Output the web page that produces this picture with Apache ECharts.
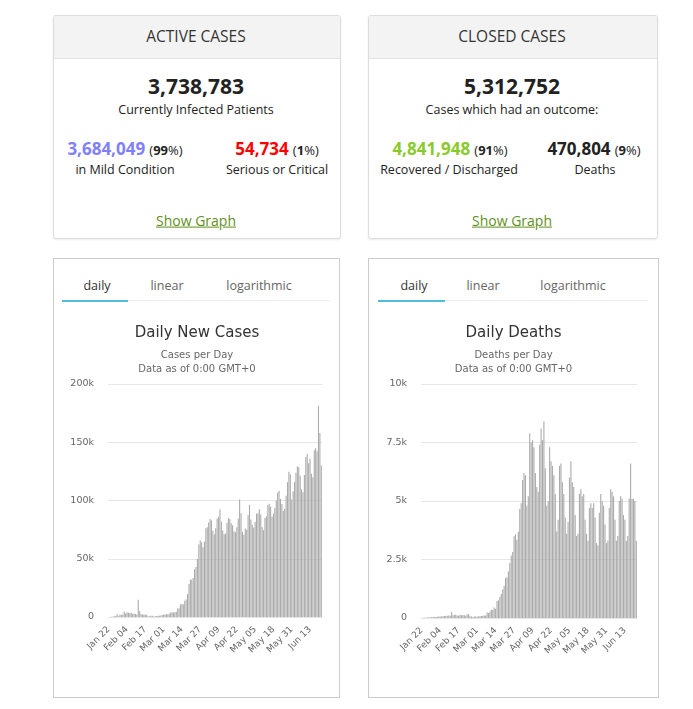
<!DOCTYPE html>
<html>
<head>
<meta charset="utf-8">
<script src="https://cdn.jsdelivr.net/npm/echarts@6/dist/echarts.min.js"></script>
<style>
  html, body { margin:0; padding:0; background:#fff; width:693px; height:709px; overflow:hidden; font-family:'Open Sans', sans-serif; color:#222; }
  .card { position:absolute; box-sizing:border-box; background:#fff; }
  .top { top:15px; height:224px; border:1px solid #ddd; border-radius:3px; box-shadow:0 1px 2px rgba(0,0,0,0.08); overflow:hidden; }
  .hdr { position:absolute; left:0; top:0; right:0; height:42px; background:#f3f3f3; border-bottom:1px solid #e3e3e3; }
  .bot { top:258px; height:440px; border:1px solid #ccc; }
  .c { position:absolute; transform:translate(-50%,-50%); white-space:nowrap; line-height:1.2; }
  .h { font-size:15.5px; color:#333; }
  .big { font-size:21px; font-weight:700; color:#222; }
  .sub { font-size:12.5px; color:#222; }
  .num { font-size:17px; font-weight:700; }
  .pct { font-size:13px; color:#222; }
  .lnk { font-size:14px; color:#5f8f22; text-decoration:underline; }
  .tab { font-size:12.5px; color:#666; }
  .tab.on { color:#333; }
  .ul { position:absolute; height:2px; background:#50bfdc; }
  .gl { position:absolute; height:1px; background:#eee; }
  .chart { position:absolute; top:258px; height:440px; }
</style>
</head>
<body>
<div class="card top" style="left:53px;width:288px;"><div class="hdr"></div></div>
<div class="card top" style="left:368px;width:290px;"><div class="hdr"></div></div>

<div class="c h" style="left:196px;top:36px;">ACTIVE CASES</div>
<div class="c big" style="left:196px;top:87px;">3,738,783</div>
<div class="c sub" style="left:196px;top:109px;">Currently Infected Patients</div>
<div class="c" style="left:125px;top:149px;"><span class="num" style="color:#8080ff;">3,684,049</span> <span class="pct">(<b>99</b>%)</span></div>
<div class="c sub" style="left:125px;top:169px;">in Mild Condition</div>
<div class="c" style="left:277px;top:149px;"><span class="num" style="color:#ff0000;">54,734</span> <span class="pct">(<b>1</b>%)</span></div>
<div class="c sub" style="left:277px;top:169px;">Serious or Critical</div>
<div class="c lnk" style="left:196px;top:221px;">Show Graph</div>

<div class="c h" style="left:512px;top:36px;">CLOSED CASES</div>
<div class="c big" style="left:512px;top:87px;">5,312,752</div>
<div class="c sub" style="left:512px;top:109px;">Cases which had an outcome:</div>
<div class="c" style="left:450px;top:149px;"><span class="num" style="color:#8aca2b;">4,841,948</span> <span class="pct">(<b>91</b>%)</span></div>
<div class="c sub" style="left:449px;top:169px;">Recovered / Discharged</div>
<div class="c" style="left:594px;top:149px;"><span class="num" style="color:#222;">470,804</span> <span class="pct">(<b>9</b>%)</span></div>
<div class="c sub" style="left:595px;top:169px;">Deaths</div>
<div class="c lnk" style="left:512px;top:221px;">Show Graph</div>

<div class="card bot" style="left:53px;width:287px;"></div>
<div class="card bot" style="left:368px;width:291px;"></div>

<div class="gl" style="left:62px;top:300px;width:268px;"></div>
<div class="ul" style="left:62px;top:300px;width:66px;"></div>
<div class="c tab on" style="left:97px;top:285px;">daily</div>
<div class="c tab" style="left:167px;top:285px;">linear</div>
<div class="c tab" style="left:259px;top:285px;">logarithmic</div>

<div class="gl" style="left:378px;top:300px;width:270px;"></div>
<div class="ul" style="left:378px;top:300px;width:67px;"></div>
<div class="c tab on" style="left:414px;top:285px;">daily</div>
<div class="c tab" style="left:483px;top:285px;">linear</div>
<div class="c tab" style="left:573px;top:285px;">logarithmic</div>

<div id="c1" class="chart" style="left:53px;width:288px;"></div>
<div id="c2" class="chart" style="left:369px;width:289px;"></div>

<script>
// Category labels: every day from Jan 22 to Jun 21 (2020)
const monthSpans = [['Jan', 22, 31], ['Feb', 1, 29], ['Mar', 1, 31], ['Apr', 1, 30], ['May', 1, 31], ['Jun', 1, 21]];
const dates = [];
monthSpans.forEach(function (m) {
  for (let d = m[1]; d <= m[2]; d++) dates.push(m[0] + ' ' + (d < 10 ? '0' + d : d));
});

const newCasesJan = [0, 98, 287, 493, 684, 809, 2651, 588, 2068, 1693];
const newCasesFeb = [2111, 4749, 3094, 4011, 3743, 3159, 3597, 2680, 3030, 2553, 2067, 14866, 5152, 2662, 2098, 2043, 1926, 1877, 584, 611, 1010, 1016, 400, 585, 830, 993, 1155, 1342, 1780];
const newCasesMar = [2052, 1849, 2431, 2256, 2762, 3929, 4025, 3826, 4005, 4563, 7196, 7515, 10845, 11123, 10937, 13871, 15095, 19856, 28263, 32231, 31796, 33453, 41067, 42964, 49882, 62186, 65706, 64261, 59773, 64693, 76147];
const newCasesApr = [76988, 81102, 84015, 82851, 73946, 70990, 76166, 84231, 85987, 92289, 81894, 74185, 70974, 71779, 80848, 85054, 84114, 80437, 78722, 73612, 72716, 76945, 84233, 100853, 89139, 73085, 70567, 75920, 74813, 87478];
const newCasesMay = [96233, 83596, 79247, 76839, 81451, 88738, 88975, 92418, 88045, 77069, 74545, 84927, 86553, 96103, 97279, 94697, 85960, 88567, 93659, 99924, 106873, 108287, 101271, 97039, 90937, 92864, 104063, 115749, 124591, 122512, 100963];
const newCasesJun = [108026, 115982, 123787, 129271, 128776, 121236, 109453, 107137, 121930, 137235, 140049, 131890, 136137, 123001, 119898, 143057, 144850, 142283, 181232, 158000, 130000];

const deathsJan = [0, 8, 16, 14, 24, 26, 26, 38, 43, 46];
const deathsFeb = [45, 57, 64, 66, 73, 73, 86, 89, 97, 108, 97, 254, 121, 143, 142, 106, 98, 139, 115, 125, 115, 99, 156, 160, 77, 66, 44, 59, 68];
const deathsMar = [58, 72, 72, 85, 98, 107, 106, 232, 210, 265, 353, 352, 453, 398, 730, 755, 906, 1030, 1230, 1380, 1707, 1745, 1985, 2351, 2676, 2822, 3493, 3576, 3349, 3686, 4658];
const deathsApr = [4900, 5900, 6200, 6100, 4800, 5200, 7900, 7500, 7600, 7300, 6200, 5600, 5400, 7400, 8100, 7600, 8400, 6400, 4800, 5000, 7300, 6700, 6500, 6100, 5300, 3700, 4200, 6500, 6600, 5800];
const deathsMay = [5300, 4300, 3600, 4100, 6000, 6700, 5800, 5600, 4400, 3500, 3600, 5300, 5500, 5200, 5300, 4200, 3600, 3300, 4700, 4900, 4700, 4900, 4300, 3200, 3100, 4500, 5300, 5000, 4800, 4000, 3200];
const deathsJun = [3300, 4700, 5500, 5400, 5200, 4200, 3300, 3500, 5000, 5200, 5100, 4400, 4200, 3300, 3500, 5100, 6600, 5100, 5100, 5000, 3300];

const newCases = [].concat(newCasesJan, newCasesFeb, newCasesMar, newCasesApr, newCasesMay, newCasesJun);
const deaths = [].concat(deathsJan, deathsFeb, deathsMar, deathsApr, deathsMay, deathsJun);

const casesTicks = [0, 50000, 100000, 150000, 200000];
const casesTickLabels = ['0', '50k', '100k', '150k', '200k'];
const deathTicks = [0, 2500, 5000, 7500, 10000];
const deathTickLabels = ['0', '2.5k', '5k', '7.5k', '10k'];

const FONT = 'DejaVu Sans';

function makeOption(title, sub1, values, ticks, tickLabels, gridLeft, gridWidth, gridHeight) {
  return {
    animation: false,
    title: [
      { text: title, left: 'center', top: 63, textStyle: { fontFamily: FONT, fontSize: 15, fontWeight: 'normal', color: '#333' } },
      { text: sub1, left: 'center', top: 87, textStyle: { fontFamily: FONT, fontSize: 10, fontWeight: 'normal', color: '#666' } },
      { text: 'Data as of 0:00 GMT+0', left: 'center', top: 101, textStyle: { fontFamily: FONT, fontSize: 10, fontWeight: 'normal', color: '#666' } }
    ],
    grid: { left: gridLeft, top: 126, width: gridWidth, height: gridHeight },
    xAxis: {
      type: 'category',
      data: dates,
      axisTick: { show: false },
      axisLine: { lineStyle: { color: '#e6e6e6' } },
      axisLabel: { rotate: 45, interval: 12, margin: 11, fontFamily: FONT, fontSize: 9, color: '#666' }
    },
    yAxis: {
      type: 'value',
      min: ticks[0],
      max: ticks[ticks.length - 1],
      interval: ticks[1] - ticks[0],
      splitLine: { lineStyle: { color: '#e6e6e6' } },
      axisLabel: {
        margin: 14, fontFamily: FONT, fontSize: 9.5, color: '#666',
        formatter: function (v) { const i = ticks.indexOf(v); return i >= 0 ? tickLabels[i] : ''; }
      }
    },
    series: [{
      type: 'bar',
      data: values,
      barCategoryGap: '22%',
      itemStyle: { color: '#ababab' }
    }]
  };
}

const ch1 = echarts.init(document.getElementById('c1'));
ch1.setOption(makeOption('Daily New Cases', 'Cases per Day', newCases, casesTicks, casesTickLabels, 55, 214, 233));
const ch2 = echarts.init(document.getElementById('c2'));
ch2.setOption(makeOption('Daily Deaths', 'Deaths per Day', deaths, deathTicks, deathTickLabels, 52, 216, 234));
</script>
</body>
</html>
